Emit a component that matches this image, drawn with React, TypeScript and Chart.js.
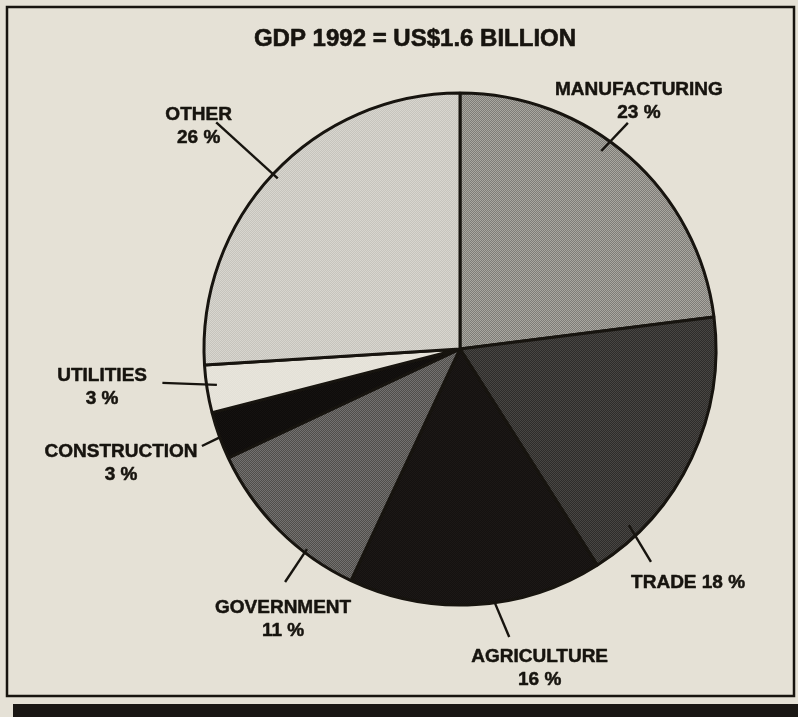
import React, { useEffect, useRef } from "react";
import { Chart, registerables } from "chart.js";

Chart.register(...registerables);

// ---- data ----
const categories = ["MANUFACTURING", "TRADE", "AGRICULTURE", "GOVERNMENT", "CONSTRUCTION", "UTILITIES", "OTHER"];
const shares = [23, 18, 16, 11, 3, 3, 26];
const titleText = "GDP 1992 = US$1.6 BILLION";

// ---- styles ----
const sliceColors = ["#a9a7a0", "#48464300", "#1c1816", "#737170", "#151210", "#e8e5dc", "#d8d6cf"];
const sliceDark = ["#7e7c77", "#2e2c2a", "#141110", "#504e4a", "#0e0c0b", "#e3e0d7", "#c6c4bd"];
const bg = "#e5e1d6";
const ink = "#17140f";

// label layout (polar, angle in degrees clockwise from 12 o'clock, radii as fraction of pie radius)
// leader: [angleInner, rInner, angleOuter, rOuter]; pos: text block centre [dx, dy] in radius units
const labelLayout = [
  { oneLine: false, leader: [35.5, 0.95, 36.6, 1.1], pos: [0.699, -0.967] },
  { oneLine: true, leader: [136.2, 0.953, 138.1, 1.117], pos: [0.891, 0.914] },
  { oneLine: false, leader: [172.2, 1.0, 170.3, 1.141], pos: [0.311, 1.248] },
  { oneLine: false, leader: [217.4, 0.984, 216.9, 1.138], pos: [-0.691, 1.055] },
  { oneLine: false, leader: [249.8, 1.0, 249.4, 1.077], pos: [-1.324, 0.447] },
  { oneLine: false, leader: [261.6, 0.96, 263.5, 1.17], pos: [-1.398, 0.148] },
  { oneLine: false, leader: [313.1, 0.975, 312.9, 1.3], pos: [-1.021, -0.869] },
];

function makePattern(a: string, b: string): CanvasPattern | string {
  const c = document.createElement("canvas");
  c.width = 2;
  c.height = 2;
  const g = c.getContext("2d");
  if (!g) return a;
  g.fillStyle = b;
  g.fillRect(0, 0, 2, 2);
  g.fillStyle = a;
  g.fillRect(0, 0, 1, 1);
  g.fillRect(1, 1, 1, 1);
  const p = g.createPattern(c, "repeat");
  return p || a;
}

function boldText(ctx: CanvasRenderingContext2D, s: string, x: number, y: number) {
  ctx.fillText(s, x, y);
  ctx.strokeText(s, x, y);
}

const framePlugin = {
  id: "frame",
  beforeDraw(chart: any) {
    const { ctx, width, height } = chart;
    ctx.save();
    ctx.fillStyle = bg;
    ctx.fillRect(0, 0, width, height);
    ctx.fillStyle = "#1a1714";
    ctx.fillRect(13, 704, width - 13, height - 704);
    ctx.strokeStyle = ink;
    ctx.lineWidth = 2.5;
    ctx.strokeRect(7, 7, 787, 689);
    ctx.restore();
  },
  afterDraw(chart: any) {
    const { ctx } = chart;
    const arc = chart.getDatasetMeta(0).data[0];
    if (!arc) return;
    const { x: cx, y: cy, outerRadius: R } = arc.getProps(["x", "y", "outerRadius"], true);
    const pt = (a: number, r: number) => {
      const t = ((a - 90) * Math.PI) / 180;
      return [cx + r * R * Math.cos(t), cy + r * R * Math.sin(t)];
    };
    ctx.save();
    ctx.fillStyle = ink;
    ctx.strokeStyle = ink;
    ctx.textAlign = "center";
    ctx.textBaseline = "middle";
    ctx.lineJoin = "round";
    ctx.font = 'bold 24px "Liberation Sans", Arial, sans-serif';
    ctx.lineWidth = 0.6;
    boldText(ctx, titleText, 415, 39);

    ctx.font = 'bold 19px "Liberation Sans", Arial, sans-serif';
    categories.forEach((cat, i) => {
      const lay = labelLayout[i];
      const [a0, r0, a1, r1] = lay.leader;
      const p0 = pt(a0, r0);
      const p1 = pt(a1, r1);
      ctx.lineWidth = 2.4;
      ctx.beginPath();
      ctx.moveTo(p0[0], p0[1]);
      ctx.lineTo(p1[0], p1[1]);
      ctx.stroke();
      ctx.lineWidth = 0.5;
      const tx = cx + lay.pos[0] * R;
      const ty = cy + lay.pos[1] * R;
      const pct = `${shares[i]} %`;
      if (lay.oneLine) {
        boldText(ctx, `${cat} ${pct}`, tx, ty);
      } else {
        boldText(ctx, cat, tx, ty - 11.5);
        boldText(ctx, pct, tx, ty + 11.5);
      }
    });
    ctx.restore();
  },
};

export default function App() {
  const ref = useRef<HTMLCanvasElement | null>(null);
  useEffect(() => {
    document.body.style.margin = "0";
    const canvas = ref.current;
    if (!canvas) return;
    const base = sliceColors.map((c, i) => (i === 1 ? "#484643" : c));
    const fills = base.map((c, i) => makePattern(c, sliceDark[i]));
    const chart = new Chart(canvas, {
      type: "pie",
      data: {
        labels: categories,
        datasets: [
          {
            data: shares,
            backgroundColor: fills as any,
            borderColor: ink,
            borderWidth: 3,
          },
        ],
      },
      options: {
        animation: false,
        responsive: false,
        radius: 256,
        rotation: 0,
        layout: { padding: { left: 180, right: 58, top: 80, bottom: 99 } },
        plugins: {
          legend: { display: false },
          tooltip: { enabled: false },
          title: { display: false },
        },
      } as any,
      plugins: [framePlugin],
    });
    return () => chart.destroy();
  }, []);
  return (
    <div style={{ width: 798, height: 717 }}>
      <canvas ref={ref} width={798} height={717} style={{ width: 798, height: 717, display: "block" }} />
    </div>
  );
}
